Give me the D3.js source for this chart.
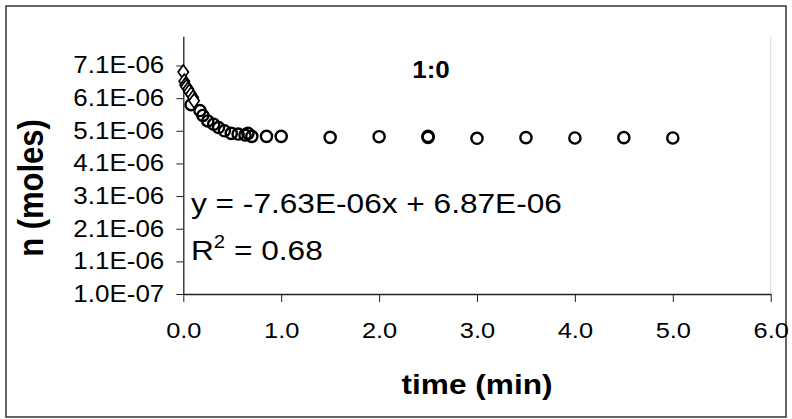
<!DOCTYPE html>
<html>
<head>
<meta charset="utf-8">
<script src="https://cdn.jsdelivr.net/npm/d3@7"></script>
<style>
  html, body { margin: 0; padding: 0; background: #fff; }
  svg { display: block; }
  text { font-family: "Liberation Sans", Arial, sans-serif; fill: #000; }
</style>
</head>
<body>
<svg id="chart" width="792" height="419"></svg>
<script>
// Early-time points (diamonds), fitted with a linear trendline
const diamondTime = [0.00, 0.01, 0.02, 0.03, 0.05, 0.06, 0.08, 0.10, 0.11];
const diamondN    = [6.90e-6, 6.62e-6, 6.50e-6, 6.45e-6, 6.38e-6, 6.30e-6, 6.22e-6, 6.12e-6, 6.02e-6];

// Later points (circles) levelling off near 4.9E-06
const circleTime = [0.08, 0.17, 0.20, 0.25, 0.31, 0.36, 0.42, 0.49, 0.56, 0.63, 0.66, 0.70, 0.85, 1.00,
                    1.50, 2.00, 2.50, 2.50, 3.00, 3.50, 4.00, 4.50, 5.00];
const circleN    = [5.90e-6, 5.72e-6, 5.57e-6, 5.40e-6, 5.30e-6, 5.20e-6, 5.10e-6, 5.02e-6, 5.00e-6, 4.97e-6, 5.02e-6, 4.93e-6, 4.93e-6, 4.93e-6,
                    4.90e-6, 4.92e-6, 4.90e-6, 4.93e-6, 4.87e-6, 4.89e-6, 4.88e-6, 4.89e-6, 4.88e-6];

// Axis ticks
const timeTicks = [0, 1, 2, 3, 4, 5, 6];
const nTicks = [1.0e-7, 1.1e-6, 2.1e-6, 3.1e-6, 4.1e-6, 5.1e-6, 6.1e-6, 7.1e-6];

// Trendline coefficients and labels
const slope = -7.63e-6;
const intercept = 6.87e-6;
const rSquared = 0.68;
const chartTitle = "1:0";
const xTitle = "time (min)";
const yTitle = "n (moles)";

// Text is drawn a little wide, as in the source rendering
const SX = 1.13;

const svg = d3.select("#chart");

// Outer chart frame
svg.append("rect")
  .attr("x", 6).attr("y", 6).attr("width", 780).attr("height", 411)
  .attr("fill", "#fff").attr("stroke", "#333").attr("stroke-width", 1.5);

const x = d3.scaleLinear().domain([0, 6]).range([183.3, 770.7]);
const y = d3.scaleLinear().domain([1.0e-7, 8.0e-6]).range([294, 294 - 7.9 * 32.64]);

// Scientific notation in the form 7.1E-06
const fmtSci = digits => v => {
  const [m, e] = v.toExponential(digits).split("e");
  const ex = parseInt(e, 10);
  return m + "E" + (ex < 0 ? "-" : "+") + String(Math.abs(ex)).padStart(2, "0");
};
const fmtE = fmtSci(1);

// Faint right edge of the plot area
svg.append("line")
  .attr("x1", x(6)).attr("x2", x(6))
  .attr("y1", y.range()[1]).attr("y2", y.range()[0])
  .attr("stroke", "#dadada").attr("stroke-width", 1);

// Y axis
const yAxis = svg.append("g")
  .attr("transform", `translate(${x(0)},0)`)
  .call(d3.axisLeft(y).tickValues(nTicks).tickSize(7).tickSizeOuter(0).tickFormat(fmtE));
yAxis.select(".domain").attr("stroke", "#222").attr("stroke-width", 1.3);
yAxis.selectAll(".tick line").attr("stroke", "#222").attr("stroke-width", 1);
yAxis.selectAll(".tick text")
  .attr("x", 0)
  .attr("transform", `translate(-19,0) scale(${SX},1)`)
  .style("font-size", "23px")
  .style("font-family", "'Liberation Sans', Arial, sans-serif");

// X axis
const xAxis = svg.append("g")
  .attr("transform", `translate(0,${y(1.0e-7)})`)
  .call(d3.axisBottom(x).tickValues(timeTicks).tickSize(8).tickSizeOuter(0).tickFormat(d3.format(".1f")));
xAxis.select(".domain").attr("stroke", "#222").attr("stroke-width", 1.3);
xAxis.selectAll(".tick line").attr("stroke", "#222").attr("stroke-width", 1);
xAxis.selectAll(".tick text")
  .attr("y", 0).attr("dy", 0)
  .attr("transform", `translate(0,44) scale(${SX},1)`)
  .style("font-size", "22.5px")
  .style("font-family", "'Liberation Sans', Arial, sans-serif");

// Helper for stretched free-standing text
function label(px, py, str, size, weight, anchor, rotate) {
  const g = svg.append("g")
    .attr("transform", `translate(${px},${py}) scale(${SX},1)` + (rotate ? ` rotate(${rotate})` : ""));
  return g.append("text")
    .attr("text-anchor", anchor)
    .style("font-size", size + "px")
    .style("font-weight", weight)
    .text(str);
}

label(431, 78, chartTitle, 23, "bold", "middle");
label(477, 394, xTitle, 28, "bold", "middle");
label(43, 188, yTitle, 31, "bold", "middle", -90);

// Trendline over the range of the diamond series
const tMin = d3.min(diamondTime), tMax = d3.max(diamondTime);
svg.append("line")
  .attr("x1", x(tMin)).attr("y1", y(intercept + slope * tMin))
  .attr("x2", x(tMax)).attr("y2", y(intercept + slope * tMax))
  .attr("stroke", "#000").attr("stroke-width", 1);

// Circle markers
svg.append("g").selectAll("circle")
  .data(circleTime.map((t, i) => [t, circleN[i]]))
  .join("circle")
  .attr("cx", d => x(d[0]))
  .attr("cy", d => y(d[1]))
  .attr("r", 5.6)
  .attr("fill", "none")
  .attr("stroke", "#000")
  .attr("stroke-width", 2.4);

// Diamond markers
const dSym = d3.symbol().type(d3.symbolDiamond).size(65);
svg.append("g").selectAll("path")
  .data(diamondTime.map((t, i) => [t, diamondN[i]]))
  .join("path")
  .attr("d", dSym)
  .attr("transform", d => `translate(${x(d[0])},${y(d[1])}) scale(1.2,0.95)`)
  .attr("fill", "#fff")
  .attr("stroke", "#000")
  .attr("stroke-width", 1.5);

// Trendline equation and R²
const fmtCoef = fmtSci(2);
label(191, 213, `y = ${slope < 0 ? "-" : ""}${fmtCoef(Math.abs(slope))}x + ${fmtCoef(intercept)}`, 28, "normal", "start");
const r2 = label(191, 260, "", 28, "normal", "start");
r2.append("tspan").text("R");
r2.append("tspan").attr("dy", -12).style("font-size", "18px").text("2");
r2.append("tspan").attr("dy", 12).text(` = ${rSquared.toFixed(2)}`);
</script>
</body>
</html>
